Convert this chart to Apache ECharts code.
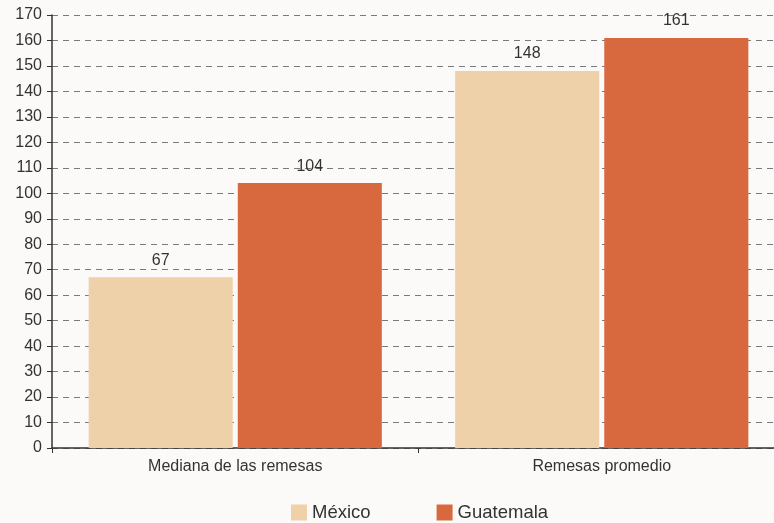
<!DOCTYPE html>
<html>
<head>
<meta charset="utf-8">
<script src="https://cdn.jsdelivr.net/npm/echarts@6/dist/echarts.min.js"></script>
<style>
  html, body { margin: 0; padding: 0; background: #fbfaf8; }
  #chart { width: 774px; height: 523px; }
</style>
</head>
<body>
<div id="chart"></div>
<script>
const categories = ['Mediana de las remesas', 'Remesas promedio'];
const mexico = [67, 148];
const guatemala = [104, 161];
const seriesNames = ['México', 'Guatemala'];

const chart = echarts.init(document.getElementById('chart'));

const labelStyle = {
  show: true,
  position: 'top',
  distance: 9,
  fontSize: 16,
  color: '#333',
  fontFamily: 'Liberation Sans, Arial, sans-serif'
};

let options = {
  backgroundColor: '#fbfaf8',
  textStyle: { fontFamily: 'Liberation Sans, Arial, sans-serif' },
  color: ['#eed1a9', '#d8683e'],
  legend: {
    data: seriesNames,
    top: 498,
    left: 286,
    itemWidth: 16,
    itemHeight: 16,
    itemGap: 66,
    icon: 'rect',
    textStyle: { fontSize: 18.5, color: '#333' }
  },
  grid: {
    left: 52,
    width: 733,
    top: 15,
    height: 433,
    outerBoundsMode: 'none'
  },
  xAxis: {
    type: 'category',
    data: categories,
    axisLine: { lineStyle: { color: '#333', width: 1.5 } },
    axisTick: { show: true, length: 5, lineStyle: { color: '#333' } },
    axisLabel: { fontSize: 16, color: '#333', margin: 11 }
  },
  yAxis: {
    type: 'value',
    min: 0,
    max: 170,
    interval: 10,
    axisLine: { show: true, lineStyle: { color: '#333', width: 1.5 } },
    axisTick: { show: true, length: 5, lineStyle: { color: '#333' } },
    axisLabel: { fontSize: 16, color: '#333', margin: 10 },
    splitLine: {
      show: true,
      lineStyle: { type: [6, 5], color: '#7a7a7a', width: 1 }
    }
  },
  series: [
    {
      name: seriesNames[0],
      type: 'bar',
      data: mexico,
      barCategoryGap: '20%',
      barGap: '3.5%',
      label: labelStyle
    },
    {
      name: seriesNames[1],
      type: 'bar',
      data: guatemala,
      barCategoryGap: '20%',
      barGap: '3.5%',
      label: labelStyle
    }
  ]
};

chart.setOption(options);
</script>
</body>
</html>
